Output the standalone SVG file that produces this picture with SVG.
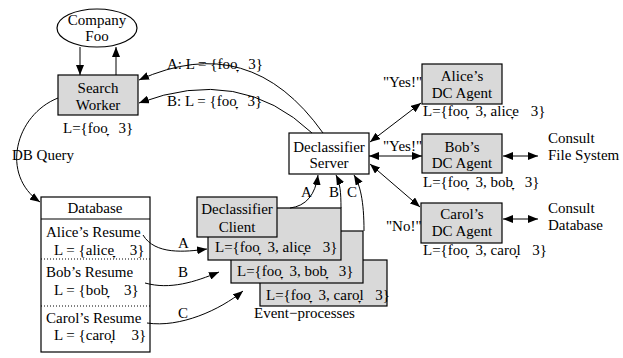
<svg xmlns="http://www.w3.org/2000/svg" width="623" height="358" viewBox="0 0 623 358">
<style>
.m{text-anchor:middle}
.box{fill:#d9d9d9;stroke:#000;stroke-width:1.2}
.wbox{fill:#fff;stroke:#000;stroke-width:1.2}
.c{fill:none;stroke:#000;stroke-width:1}
</style>
<defs>
<marker id="ah" viewBox="0 0 10 8" refX="10" refY="4" markerWidth="10" markerHeight="8" markerUnits="userSpaceOnUse" orient="auto-start-reverse">
<path d="M0,0 L10,4 L0,8 z" fill="#000"/>
</marker>
</defs>
<rect width="623" height="358" fill="#fff"/>
<g font-family="'Liberation Serif', 'Times New Roman', serif" font-size="15" fill="#000">

<g id="company">
<ellipse cx="97" cy="28" rx="40" ry="19" fill="#fff" stroke="#000" stroke-width="1.2"/>
<text x="97" y="25" class="m">Company</text>
<text x="97" y="41" class="m">Foo</text>
</g>

<g id="searchworker">
<rect x="58" y="75" width="80" height="40" class="box"/>
<text x="98" y="93" class="m">Search</text>
<text x="98" y="110" class="m">Worker</text>
<text x="63" y="133">L={foo̞ <tspan dx="7">3}</tspan></text>
</g>

<g id="server">
<rect x="289" y="133" width="80" height="41" class="wbox"/>
<text x="329" y="152" class="m">Declassifier</text>
<text x="329" y="168" class="m">Server</text>
</g>

<g id="alice-agent">
<rect x="422" y="64" width="80" height="40" class="box"/>
<text x="462" y="81" class="m">Alice’s</text>
<text x="462" y="98" class="m">DC Agent</text>
<text x="423" y="116">L={foo̞ <tspan dx="4">3, alic̞e </tspan><tspan dx="8">3}</tspan></text>
<text x="383" y="87">"Yes!"</text>
</g>

<g id="bob-agent">
<rect x="422" y="134" width="80" height="39" class="box"/>
<text x="462" y="152" class="m">Bob’s</text>
<text x="462" y="168" class="m">DC Agent</text>
<text x="423" y="187">L={foo̞ <tspan dx="4">3, bob̞ </tspan><tspan dx="8">3}</tspan></text>
<text x="383" y="151">"Yes!"</text>
<text x="548" y="143">Consult</text>
<text x="548" y="160">File System</text>
</g>

<g id="carol-agent">
<rect x="421" y="203" width="81" height="40" class="box"/>
<text x="462" y="219" class="m">Carol’s</text>
<text x="462" y="236" class="m">DC Agent</text>
<text x="423" y="255">L={foo̞ <tspan dx="4">3, caro̞l </tspan><tspan dx="8">3}</tspan></text>
<text x="386" y="231">"No!"</text>
<text x="548" y="213">Consult</text>
<text x="548" y="230">Database</text>
</g>

<g id="ep-carol">
<rect x="260" y="260" width="127" height="46" class="box"/>
<text x="266" y="300">L={foo̞ <tspan dx="4">3, caro̞l </tspan><tspan dx="8">3}</tspan></text>
</g>
<g id="ep-bob">
<rect x="231" y="231" width="132" height="52" class="box"/>
<text x="237" y="276">L={foo̞ <tspan dx="4">3, bob̞ </tspan><tspan dx="8">3}</tspan></text>
</g>
<g id="ep-alice">
<rect x="208" y="208" width="133" height="52" class="box"/>
<text x="215" y="252">L={foo̞ <tspan dx="4">3, alic̞e </tspan><tspan dx="8">3}</tspan></text>
</g>
<g id="client">
<rect x="197" y="197" width="80" height="40" class="box"/>
<text x="237" y="214" class="m">Declassifier</text>
<text x="237" y="232" class="m">Client</text>
</g>
<text x="254" y="318">Event−processes</text>

<g id="database">
<rect x="41" y="197" width="109" height="155" class="wbox"/>
<line x1="41" y1="219" x2="150" y2="219" stroke="#000" stroke-width="1.2"/>
<line x1="41" y1="259" x2="150" y2="259" stroke="#000" stroke-dasharray="1,2"/>
<line x1="41" y1="306" x2="150" y2="306" stroke="#000" stroke-dasharray="1,2"/>
<text x="95" y="213" class="m">Database</text>
<text x="46" y="237">Alice’s Resume</text>
<text x="54" y="255">L = {alice̞ <tspan dx="12">3}</tspan></text>
<text x="46" y="277">Bob’s Resume</text>
<text x="54" y="295">L = {bob̞ <tspan dx="12">3}</tspan></text>
<text x="46" y="323">Carol’s Resume</text>
<text x="54" y="340">L = {caro̞l <tspan dx="12">3}</tspan></text>
</g>

<g id="connectors">
<line x1="80" y1="47" x2="80" y2="75" class="c" marker-end="url(#ah)"/>
<line x1="116" y1="75" x2="116" y2="47" class="c" marker-end="url(#ah)"/>
<path d="M323,133 Q250,30 139,80" class="c" marker-end="url(#ah)"/>
<path d="M312,133 Q240,65 139,103" class="c" marker-end="url(#ah)"/>
<path d="M58,98 C15,115 0,175 40,202" class="c" marker-end="url(#ah)"/>
<line x1="370" y1="142" x2="421" y2="103" class="c" marker-start="url(#ah)" marker-end="url(#ah)"/>
<line x1="369" y1="156" x2="422" y2="156" class="c" marker-start="url(#ah)" marker-end="url(#ah)"/>
<line x1="370" y1="164" x2="420" y2="207" class="c" marker-start="url(#ah)" marker-end="url(#ah)"/>
<line x1="503" y1="156" x2="538" y2="156" class="c" marker-start="url(#ah)" marker-end="url(#ah)"/>
<line x1="503" y1="219" x2="538" y2="219" class="c" marker-start="url(#ah)" marker-end="url(#ah)"/>
<path d="M290,208 Q314,205 318,175" class="c" marker-end="url(#ah)"/>
<path d="M341,208 C341,192 340,183 336,175" class="c" marker-end="url(#ah)"/>
<path d="M364,231 C364,200 360,185 354,175" class="c" marker-end="url(#ah)"/>
<path d="M143,235 C155,255 185,252 207,249" class="c" marker-end="url(#ah)"/>
<path d="M145,283 C170,290 195,282 219,272" class="c" marker-end="url(#ah)"/>
<path d="M147,323 C180,328 220,310 243,291" class="c" marker-end="url(#ah)"/>
<text x="167" y="69">A: L = {foo̞ <tspan dx="7">3}</tspan></text>
<text x="167" y="106">B: L = {foo̞ <tspan dx="7">3}</tspan></text>
<text x="12" y="160">DB Query</text>
<text x="301" y="197">A</text>
<text x="329" y="197">B</text>
<text x="347" y="197">C</text>
<text x="178" y="248">A</text>
<text x="178" y="277">B</text>
<text x="178" y="318">C</text>
</g>
</g>
</svg>
